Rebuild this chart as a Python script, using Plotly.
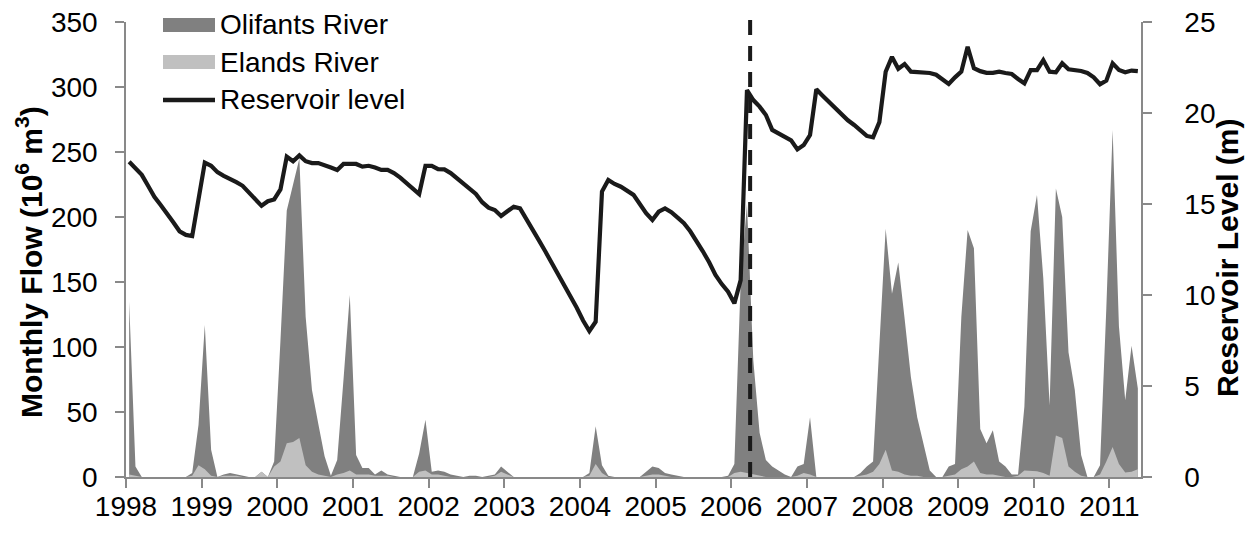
import plotly.graph_objects as go

# ---------------- data (monthly, Jan 1998 .. May 2011) ----------------
start_year = 1998
n_months = 161
month_x = [start_year + (i + 0.5) / 12 for i in range(n_months)]

reservoir_level = [
    17.32, 16.95, 16.6, 16.0, 15.4, 14.95, 14.5, 14.0, 13.5, 13.3,
    13.24, 15.25, 17.27, 17.1, 16.75, 16.55, 16.4, 16.2, 16.0, 15.65,
    15.3, 14.9, 15.15, 15.25, 15.8, 17.6, 17.35, 17.67, 17.35, 17.25,
    17.25, 17.15, 17.0, 16.87, 17.2, 17.2, 17.2, 17.05, 17.1, 17.0,
    16.87, 16.87, 16.7, 16.45, 16.15, 15.86, 15.55, 17.1, 17.1, 16.92,
    16.9, 16.7, 16.4, 16.14, 15.8, 15.55, 15.1, 14.8, 14.67, 14.34,
    14.6, 14.85, 14.76, 14.2, 13.6, 13.0, 12.4, 11.8, 11.2, 10.5,
    9.9, 9.3, 8.6, 8.02, 8.53, 15.68, 16.32, 16.1, 15.95, 15.7,
    15.5, 15.0, 14.5, 14.12, 14.58, 14.76, 14.55, 14.25, 13.94, 13.5,
    13.0, 12.4, 11.8, 11.1, 10.6, 10.18, 9.54, 10.82, 21.26, 20.71,
    20.35, 19.89, 19.07, 18.9, 18.7, 18.5, 18.0, 18.24, 18.79, 21.3,
    20.95, 20.62, 20.25, 19.95, 19.6, 19.34, 19.0, 18.74, 18.66, 19.5,
    22.27, 23.08, 22.43, 22.69, 22.27, 22.25, 22.24, 22.2, 22.1, 21.85,
    21.59, 21.96, 22.27, 23.64, 22.46, 22.3, 22.21, 22.21, 22.27, 22.2,
    22.14, 21.87, 21.63, 22.36, 22.36, 22.91, 22.27, 22.24, 22.73, 22.4,
    22.35, 22.31, 22.2, 21.96, 21.58, 21.78, 22.73, 22.36, 22.24, 22.33,
    22.3,
]

olifants_flow = [
    135, 8, 0, 0, 0, 0, 0, 0, 0, 0,
    3, 40, 117, 21, 0, 2, 3, 2, 1, 0,
    0, 4, 0, 12, 105, 205, 225, 245, 123, 67,
    41, 16, 1, 13, 75, 140, 17, 7, 7, 2,
    5, 2, 1, 0, 0, 0, 18, 44, 4, 5,
    4, 2, 1, 0, 1, 1, 0, 1, 2, 8,
    4, 0, 0, 0, 0, 0, 0, 0, 0, 0,
    0, 0, 0, 3, 39, 9, 1, 0, 0, 0,
    0, 0, 4, 8, 7, 3, 2, 1, 0, 0,
    0, 0, 0, 0, 0, 1, 10, 150, 210, 90,
    34, 13, 8, 5, 2, 0, 8, 10, 46, 0,
    0, 0, 0, 0, 0, 0, 3, 8, 12, 100,
    191, 141, 165, 122, 77, 46, 26, 5, 0, 0,
    8, 10, 123, 190, 176, 37, 26, 36, 12, 8,
    2, 2, 54, 189, 217, 153, 55, 222, 200, 96,
    67, 17, 0, 0, 9, 130, 267, 116, 59, 101,
    68,
]

elands_flow = [
    2, 1, 0, 0, 0, 0, 0, 0, 0, 0,
    1, 9, 6, 1, 0, 1, 1, 1, 0, 0,
    0, 4, 0, 8, 12, 26, 27, 30, 9, 4,
    2, 1, 0, 2, 3, 5, 2, 2, 2, 1,
    1, 1, 0, 0, 0, 0, 4, 5, 2, 2,
    1, 0, 0, 0, 0, 0, 0, 0, 1, 4,
    2, 0, 0, 0, 0, 0, 0, 0, 0, 0,
    0, 0, 0, 1, 10, 3, 0, 0, 0, 0,
    0, 0, 1, 2, 2, 1, 0, 0, 0, 0,
    0, 0, 0, 0, 0, 0, 3, 4, 3, 2,
    1, 0, 0, 0, 0, 0, 1, 3, 2, 0,
    0, 0, 0, 0, 0, 0, 1, 2, 4, 10,
    21, 5, 4, 2, 1, 1, 0, 0, 0, 0,
    1, 2, 6, 8, 12, 3, 2, 2, 1, 0,
    0, 1, 5, 4.5, 4.5, 3, 1, 32, 30, 8,
    4, 1, 0, 0, 2, 12, 23, 10, 3.5, 4,
    6,
]

year_ticks = list(range(1998, 2012))
year_labels = [str(y) for y in year_ticks]
flow_ticks = [0, 50, 100, 150, 200, 250, 300, 350]
level_ticks = [0, 5, 10, 15, 20, 25]
event_x = 2006.25  # dashed vertical marker

series_names = ["Olifants River", "Elands River", "Reservoir level"]
left_title = "<b>Monthly Flow (10<sup>6</sup> m<sup>3</sup>)</b>"
right_title = "<b>Reservoir Level (m)</b>"

# ---------------- styles ----------------
FONT = "Liberation Sans, Arial, sans-serif"
C_OLI = "#808080"
C_ELA = "#c0c0c0"
C_LINE = "#1a1a1a"
C_AXIS = "#898989"

fig = go.Figure()
fig.add_trace(go.Scatter(
    x=month_x, y=olifants_flow, name=series_names[0], mode="lines",
    fill="tozeroy", fillcolor=C_OLI, line=dict(width=0, color=C_OLI),
    showlegend=False, yaxis="y"))
fig.add_trace(go.Scatter(
    x=month_x, y=elands_flow, name=series_names[1], mode="lines",
    fill="tozeroy", fillcolor=C_ELA, line=dict(width=0, color=C_ELA),
    showlegend=False, yaxis="y"))
fig.add_trace(go.Scatter(
    x=month_x, y=reservoir_level, name=series_names[2], mode="lines",
    line=dict(width=4.2, color=C_LINE), showlegend=False, yaxis="y2"))

W, H = 1256, 548
L, R, T, B = 126, 115, 22, 71
pw, ph = W - L - R, H - T - B


def px2paper(px, py):
    return (px - L) / pw, (H - B - py) / ph


shapes = []
# dashed event line
shapes.append(dict(type="line", xref="x", yref="paper", x0=event_x, x1=event_x,
                   y0=0, y1=px2paper(0, 15)[1], layer="above",
                   line=dict(color=C_LINE, width=4, dash="15px,11px")))
# legend symbols
x0s, _ = px2paper(163, 0)
x1s, _ = px2paper(215, 0)
_, r1a = px2paper(0, 18)
_, r1b = px2paper(0, 32)
_, r2a = px2paper(0, 55)
_, r2b = px2paper(0, 69)
_, r3 = px2paper(0, 100)
shapes.append(dict(type="rect", xref="paper", yref="paper", x0=x0s, x1=x1s,
                   y0=r1b, y1=r1a, fillcolor=C_OLI, line=dict(width=0)))
shapes.append(dict(type="rect", xref="paper", yref="paper", x0=x0s, x1=x1s,
                   y0=r2b, y1=r2a, fillcolor=C_ELA, line=dict(width=0)))
shapes.append(dict(type="line", xref="paper", yref="paper", x0=x0s, x1=x1s,
                   y0=r3, y1=r3, line=dict(color=C_LINE, width=4.5)))

annotations = []
tx, _ = px2paper(218, 0)
for name, py in zip(series_names, [25, 62, 100]):
    annotations.append(dict(xref="paper", yref="paper", x=tx, y=px2paper(0, py)[1],
                            text=name, showarrow=False, xanchor="left",
                            yanchor="middle", font=dict(size=28, color="#000000")))

# axis titles
annotations.append(dict(xref="paper", yref="paper",
                        x=px2paper(29, 0)[0], y=px2paper(0, 262)[1],
                        text=left_title, textangle=-90, showarrow=False,
                        xanchor="center", yanchor="middle",
                        font=dict(size=30, color="#000000")))
annotations.append(dict(xref="paper", yref="paper",
                        x=px2paper(1227, 0)[0], y=px2paper(0, 258)[1],
                        text=right_title, textangle=-90, showarrow=False,
                        xanchor="center", yanchor="middle",
                        font=dict(size=30, color="#000000")))

fig.update_layout(
    width=W, height=H,
    margin=dict(l=L, r=R, t=T, b=B, autoexpand=False),
    paper_bgcolor="white", plot_bgcolor="white",
    font=dict(family=FONT, color="#000000"),
    shapes=shapes, annotations=annotations,
    xaxis=dict(range=[start_year, start_year + n_months / 12],
               tickmode="array", tickvals=year_ticks, ticktext=year_labels,
               showgrid=False, zeroline=False, showline=True,
               linecolor=C_AXIS, linewidth=1.5, ticks="outside", ticklen=9,
               tickcolor=C_AXIS, tickwidth=1.5, tickfont=dict(size=28),
               ticklabelstandoff=-5,
               automargin=False),
    yaxis=dict(range=[0, 350], tickmode="array", tickvals=flow_ticks,
               showgrid=False, zeroline=False, showline=True,
               linecolor=C_AXIS, linewidth=1.5, ticks="outside", ticklen=9,
               tickcolor=C_AXIS, tickwidth=1.5, tickfont=dict(size=28),
               ticklabelstandoff=12,
               automargin=False),
    yaxis2=dict(range=[0, 25], tickmode="array", tickvals=level_ticks,
                overlaying="y", side="right",
                showgrid=False, zeroline=False, showline=True,
                linecolor=C_AXIS, linewidth=1.5, ticks="outside", ticklen=9,
                tickcolor=C_AXIS, tickwidth=1.5, tickfont=dict(size=28),
                ticklabelstandoff=27,
                automargin=False),
)

fig.write_html(
    "out.html",
    config={"displayModeBar": False},
    post_script="document.body.style.margin='0px';document.body.style.overflow='hidden';",
)
